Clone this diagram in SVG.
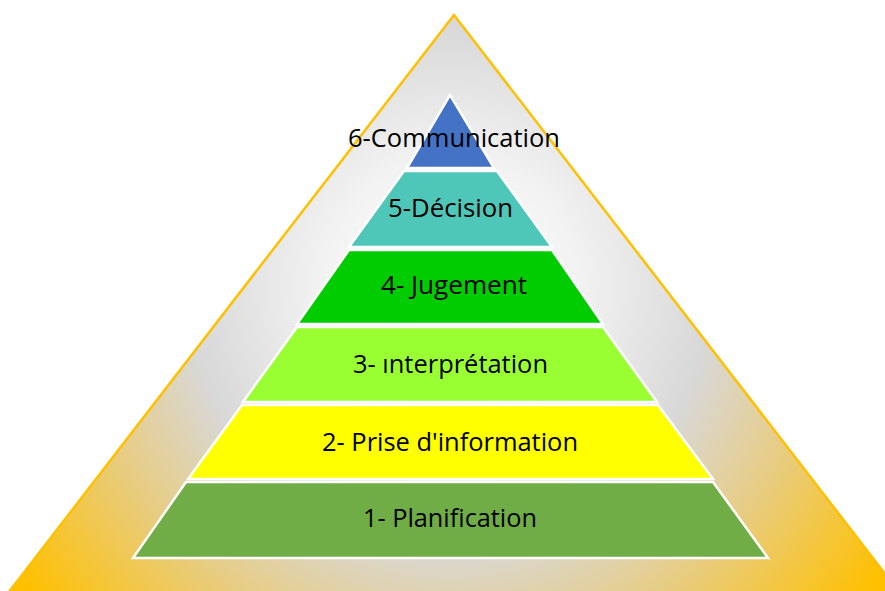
<svg xmlns="http://www.w3.org/2000/svg" width="885" height="591" viewBox="0 0 885 591">
<defs>
<radialGradient id="bg" gradientUnits="userSpaceOnUse" cx="450" cy="285" r="520">
<stop offset="0" stop-color="#FFFFFF"/>
<stop offset="0.25" stop-color="#F2F2F2"/>
<stop offset="0.5" stop-color="#D8D8D8"/>
<stop offset="0.7" stop-color="#E6CD88"/>
<stop offset="1" stop-color="#FFC000"/>
</radialGradient>
</defs>
<style>
.layer{stroke:#FFFFFF;stroke-width:2.5;stroke-linejoin:miter}
.lbl{font-family:"Open Sans","Liberation Sans",sans-serif;font-size:25px;fill:#000000;text-anchor:middle}
</style>
<rect width="885" height="591" fill="#FFFFFF"/>
<g id="outer">
<polygon points="454,15 -5,610 913,610" fill="url(#bg)" stroke="#FFC000" stroke-width="2.5"/>
</g>
<g id="connectors"></g>
<g id="layer1">
<polygon class="layer" points="186,482 713,482 768,558 133,558" fill="#70AD47"/>
<text class="lbl" x="450" y="527" textLength="174" lengthAdjust="spacingAndGlyphs">1- Planification</text>
</g>
<g id="layer2">
<polygon class="layer" points="242,405 658,405 713,479 188,479" fill="#FFFF00"/>
<text class="lbl" x="450" y="451" textLength="256" lengthAdjust="spacingAndGlyphs">2- Prise d'information</text>
</g>
<g id="layer3">
<polygon class="layer" points="297,327 603,327 657,402 243,402" fill="#99FF33"/>
<text class="lbl" x="450.5" y="373" textLength="195" lengthAdjust="spacingAndGlyphs">3- ınterprétation</text>
</g>
<g id="layer4">
<polygon class="layer" points="349,250 552,250 603,324 297,324" fill="#00CC00"/>
<text class="lbl" x="454" y="294" textLength="146" lengthAdjust="spacingAndGlyphs">4- Jugement</text>
</g>
<g id="layer5">
<polygon class="layer" points="404,171 497,171 552,247 349,247" fill="#4EC6B8"/>
<text class="lbl" x="450.5" y="217" textLength="125" lengthAdjust="spacingAndGlyphs">5-Décision</text>
</g>
<g id="layer6">
<polygon class="layer" points="450,95 494,168 407,168" fill="#4472C4"/>
<text class="lbl" x="454" y="147" textLength="212" lengthAdjust="spacingAndGlyphs">6-Communication</text>
</g>
</svg>
